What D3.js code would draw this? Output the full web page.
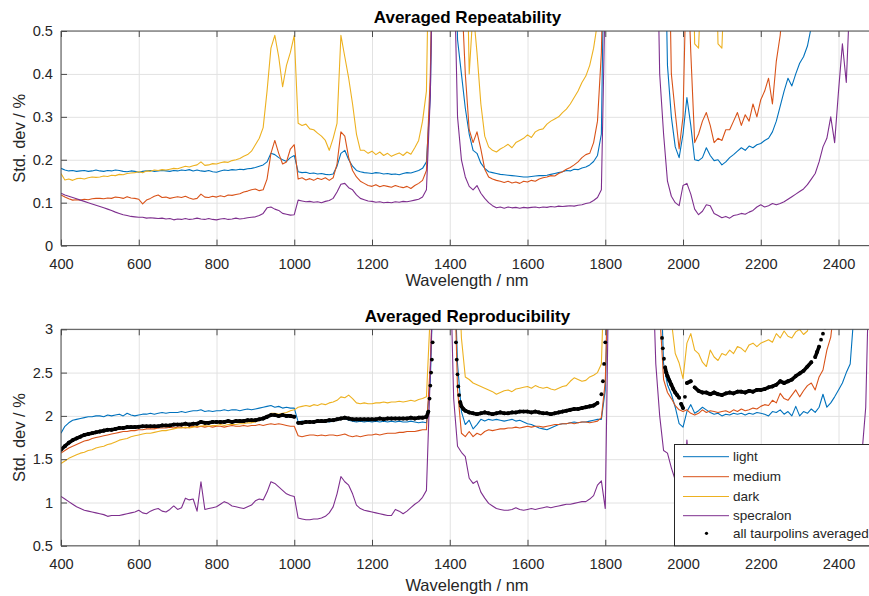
<!DOCTYPE html>
<html><head><meta charset="utf-8">
<script src="https://cdn.jsdelivr.net/npm/d3@7"></script>
<style>
body{margin:0;background:#fff;}
svg{display:block;font-family:"Liberation Sans",Arial,Helvetica,sans-serif;}
</style>
</head><body>
<svg id="chart" width="869" height="596"></svg>
<script>
// ---------------- DATA ----------------
const wavelengths = [
400,410,420,430,440,450,460,470,480,490,
500,510,520,530,540,550,560,570,580,590,
600,610,620,630,640,650,660,670,680,690,
700,710,720,730,740,750,760,770,780,790,
800,810,820,830,840,850,860,870,880,890,
900,910,920,930,940,950,960,970,980,990,
1000,1010,1020,1030,1040,1050,1060,1070,1080,1090,
1100,1110,1120,1130,1140,1150,1160,1170,1180,1190,
1200,1210,1220,1230,1240,1250,1260,1270,1280,1290,
1300,1310,1320,1330,1340,1350,1360,1370,1380,1390,
1400,1410,1420,1430,1440,1450,1460,1470,1480,1490,
1500,1510,1520,1530,1540,1550,1560,1570,1580,1590,
1600,1610,1620,1630,1640,1650,1660,1670,1680,1690,
1700,1710,1720,1730,1740,1750,1760,1770,1780,1790,
1800,1810,1820,1830,1840,1850,1860,1870,1880,1890,
1900,1910,1920,1930,1940,1950,1960,1970,1980,1990,
2000,2010,2020,2030,2040,2050,2060,2070,2080,2090,
2100,2110,2120,2130,2140,2150,2160,2170,2180,2190,
2200,2210,2220,2230,2240,2250,2260,2270,2280,2290,
2300,2310,2320,2330,2340,2350,2360,2370,2380,2390,
2400,2410,2420,2430,2440,2450,2460,2470,2480,2490,
2500];

const seriesNames = ["light", "medium", "dark", "specralon"];
const averagedName = "all taurpolins averaged";
const titles = ["Averaged Repeatability", "Averaged Reproducibility"];
const xLabel = "Wavelength / nm";
const yLabel = "Std. dev / %";
const xTicks = [400, 600, 800, 1000, 1200, 1400, 1600, 1800, 2000, 2200, 2400];
const xDomain = [400, 2500];
const repYTicks = [0, 0.1, 0.2, 0.3, 0.4, 0.5];
const repYTickLabels = ["0", "0.1", "0.2", "0.3", "0.4", "0.5"];
const reproYTicks = [0.5, 1, 1.5, 2, 2.5, 3];
const reproYTickLabels = ["0.5", "1", "1.5", "2", "2.5", "3"];

// Repeatability (top)
const repLight = [
.180,.176,.174,.175,.173,.174,.175,.173,.174,.176,
.174,.173,.175,.174,.176,.175,.173,.172,.174,.173,
.171,.173,.174,.175,.173,.174,.175,.174,.173,.175,
.174,.176,.175,.177,.174,.176,.174,.173,.175,.172,
.171,.174,.176,.175,.177,.176,.178,.177,.179,.180,
.182,.185,.188,.195,.215,.212,.205,.200,.196,.205,
.210,.172,.170,.171,.168,.169,.167,.168,.166,.165,
.167,.185,.215,.222,.200,.185,.175,.172,.170,.169,
.168,.170,.169,.167,.168,.166,.167,.165,.168,.170,
.169,.172,.175,.180,.195,.350,.9,.9,.9,.9,
.9,.9,.48,.40,.32,.26,.222,.215,.192,.180,
.172,.170,.168,.166,.165,.164,.163,.162,.161,.160,
.160,.161,.162,.163,.163,.164,.166,.168,.170,.172,
.175,.174,.178,.177,.181,.183,.188,.196,.210,.260,
.9,.9,.9,.9,.9,.9,.9,.9,.9,.9,
.9,.9,.9,.9,.9,.9,.42,.30,.23,.205,
.26,.345,.28,.20,.198,.205,.228,.21,.198,.200,
.188,.195,.205,.212,.220,.228,.222,.232,.228,.235,
.238,.245,.250,.265,.290,.325,.360,.390,.372,.400,
.425,.440,.465,.510,.9,.9,.9,.9,.9,.9,
.9,.9,.9,.9,.9,.9,.9,.9,.9,.9,
.9];
const repMedium = [
.118,.113,.109,.106,.107,.106,.108,.107,.109,.110,
.110,.109,.111,.110,.113,.112,.110,.114,.111,.110,
.108,.097,.106,.110,.115,.118,.112,.113,.110,.112,
.114,.112,.115,.111,.108,.110,.120,.113,.112,.115,
.113,.116,.114,.118,.117,.119,.121,.125,.127,.130,
.132,.128,.130,.155,.215,.245,.215,.190,.195,.225,
.235,.155,.158,.153,.156,.152,.157,.154,.158,.152,
.158,.190,.265,.255,.205,.175,.160,.150,.145,.140,
.138,.142,.137,.140,.138,.136,.140,.137,.135,.138,
.133,.140,.145,.152,.175,.400,.9,.9,.9,.9,
.9,.9,.9,.60,.40,.27,.24,.265,.225,.178,
.160,.155,.152,.150,.147,.150,.146,.148,.145,.150,
.148,.152,.150,.155,.158,.160,.163,.162,.168,.172,
.178,.182,.188,.195,.205,.212,.215,.240,.290,.450,
.9,.9,.9,.9,.9,.9,.9,.9,.9,.9,
.9,.9,.9,.9,.9,.9,.9,.40,.31,.225,
.30,.70,.45,.24,.26,.29,.31,.28,.24,.25,
.245,.27,.27,.29,.31,.28,.305,.29,.33,.30,
.34,.36,.39,.33,.43,.49,.60,.52,.51,.9,
.9,.9,.9,.9,.9,.9,.9,.9,.9,.9,
.9,.9,.9,.9,.9,.9,.9,.9,.9,.9,
.9];
const repDark = [
.168,.153,.155,.152,.156,.157,.155,.158,.160,.159,
.160,.162,.161,.164,.163,.166,.165,.168,.169,.170,
.172,.170,.174,.173,.176,.175,.177,.176,.178,.180,
.179,.182,.185,.183,.186,.188,.195,.187,.188,.191,
.190,.193,.195,.194,.198,.200,.203,.208,.212,.220,
.235,.250,.275,.360,.460,.490,.440,.370,.420,.450,
.490,.285,.280,.283,.272,.270,.262,.255,.245,.222,
.250,.285,.490,.440,.390,.330,.260,.222,.222,.215,
.220,.212,.218,.210,.215,.208,.212,.216,.210,.218,
.213,.228,.245,.290,.360,.9,.9,.9,.9,.9,
.9,.9,.9,.9,.9,.40,.55,.45,.33,.255,
.230,.222,.218,.225,.230,.236,.228,.240,.245,.250,
.258,.252,.265,.270,.272,.283,.290,.295,.300,.310,
.318,.330,.345,.360,.380,.395,.420,.460,.520,.9,
.9,.9,.9,.9,.9,.9,.9,.9,.9,.9,
.9,.9,.9,.9,.9,.9,.9,.9,.9,.9,
.9,.9,.9,.47,.46,.7,.9,.9,.9,.47,
.46,.7,.9,.9,.9,.9,.9,.9,.9,.9,
.9,.9,.9,.9,.9,.9,.9,.9,.9,.9,
.9,.9,.9,.9,.9,.9,.9,.9,.9,.9,
.9,.9,.9,.9,.9,.9,.9,.9,.9,.9,
.9];
const repSpecralon = [
.122,.118,.115,.112,.109,.106,.103,.100,.097,.094,
.091,.088,.085,.082,.078,.075,.072,.070,.068,.067,
.066,.066,.064,.065,.064,.063,.064,.062,.063,.060,
.062,.061,.063,.061,.062,.064,.062,.061,.063,.061,
.060,.062,.063,.061,.062,.064,.062,.063,.065,.066,
.067,.070,.075,.088,.090,.085,.082,.075,.073,.071,
.072,.106,.104,.102,.103,.101,.102,.100,.103,.105,
.110,.125,.143,.145,.135,.130,.118,.110,.107,.104,
.103,.101,.102,.100,.101,.100,.102,.101,.103,.102,
.104,.106,.108,.113,.130,.350,.9,.9,.9,.9,
.9,.70,.30,.20,.16,.138,.130,.140,.122,.110,
.100,.093,.088,.090,.087,.090,.088,.089,.087,.089,
.088,.089,.090,.088,.090,.089,.091,.090,.092,.091,
.092,.093,.092,.094,.095,.098,.100,.105,.112,.130,
.60,.9,.9,.9,.9,.9,.9,.9,.9,.9,
.9,.9,.9,.9,.40,.26,.15,.115,.100,.093,
.140,.145,.120,.085,.072,.080,.095,.093,.075,.070,
.065,.068,.064,.070,.072,.075,.073,.078,.082,.090,
.095,.090,.093,.098,.095,.098,.102,.108,.114,.120,
.126,.132,.142,.155,.168,.195,.230,.250,.300,.240,
.360,.470,.380,.600,.9,.9,.9,.9,.9,.9,
.9];

// Reproducibility (bottom)
const reproLight = [
1.80,1.88,1.92,1.95,1.96,1.97,1.98,1.99,1.99,2.00,
2.00,1.99,2.01,2.00,2.01,2.02,2.00,2.03,2.01,2.00,
2.01,2.02,2.02,2.03,2.02,2.03,2.04,2.03,2.04,2.04,
2.04,2.05,2.04,2.05,2.06,2.06,2.07,2.05,2.06,2.05,
2.06,2.06,2.07,2.06,2.07,2.07,2.06,2.07,2.08,2.07,
2.08,2.09,2.10,2.11,2.12,2.10,2.11,2.09,2.10,2.09,
2.09,1.93,1.94,1.93,1.93,1.92,1.93,1.93,1.94,1.93,
1.94,1.95,1.96,1.97,1.95,1.94,1.93,1.94,1.93,1.94,
1.93,1.94,1.93,1.94,1.93,1.94,1.93,1.94,1.93,1.93,
1.94,1.93,1.92,1.93,1.92,2.40,4,4,4,4,
4,4,2.60,2.05,1.90,1.95,1.85,1.90,1.96,1.94,
1.96,1.95,1.96,1.95,1.94,1.95,1.96,1.94,1.95,1.93,
1.91,1.90,1.88,1.86,1.85,1.84,1.86,1.88,1.90,1.91,
1.91,1.92,1.93,1.92,1.93,1.93,1.94,1.95,1.96,1.96,
2.30,4,4,4,4,4,4,4,4,4,
4,4,4,4,4,2.60,2.36,2.25,2.10,1.91,
1.87,2.05,2.13,2.03,2.06,2.10,2.07,2.04,2.02,2.03,
2.00,2.02,2.01,2.03,2.02,2.03,2.01,2.03,2.02,2.04,
2.03,2.02,2.00,2.05,2.04,2.07,2.02,2.05,2.00,2.11,
2.00,2.05,2.03,2.08,2.04,2.10,2.25,2.10,2.15,2.22,
2.30,2.38,2.50,2.60,3.20,4,4,4,4,4,
4];
const reproMedium = [
1.57,1.60,1.63,1.65,1.67,1.69,1.71,1.72,1.74,1.75,
1.76,1.77,1.78,1.79,1.80,1.81,1.82,1.82,1.83,1.83,
1.84,1.84,1.85,1.85,1.85,1.86,1.86,1.86,1.87,1.86,
1.87,1.87,1.86,1.87,1.88,1.87,1.88,1.87,1.88,1.87,
1.88,1.88,1.87,1.88,1.89,1.88,1.88,1.89,1.88,1.89,
1.89,1.90,1.89,1.90,1.91,1.90,1.91,1.90,1.89,1.88,
1.88,1.77,1.76,1.77,1.78,1.78,1.77,1.78,1.77,1.78,
1.78,1.77,1.78,1.79,1.77,1.76,1.77,1.76,1.77,1.78,
1.78,1.79,1.78,1.79,1.80,1.80,1.80,1.81,1.81,1.82,
1.82,1.82,1.83,1.84,1.84,2.60,4,4,4,4,
4,4,2.30,1.80,1.76,1.82,1.76,1.80,1.78,1.82,
1.84,1.83,1.84,1.85,1.85,1.86,1.86,1.87,1.86,1.87,
1.88,1.87,1.88,1.88,1.87,1.88,1.89,1.90,1.90,1.91,
1.91,1.92,1.91,1.92,1.93,1.93,1.92,1.93,1.94,1.98,
2.40,4,4,4,4,4,4,4,4,4,
4,4,4,4,3.20,2.42,2.27,2.20,2.12,2.07,
2.05,2.07,2.03,2.01,2.03,2.07,2.04,2.06,2.05,2.04,
2.05,2.06,2.04,2.07,2.05,2.08,2.06,2.07,2.09,2.08,
2.11,2.13,2.12,2.18,2.15,2.26,2.20,2.18,2.24,2.30,
2.22,2.29,2.35,2.38,2.30,2.45,2.53,2.76,2.91,3.30,
4,4,4,4,4,4,4,4,4,4,
4];
const reproDark = [
1.45,1.48,1.51,1.53,1.55,1.57,1.58,1.60,1.61,1.63,
1.64,1.65,1.67,1.68,1.70,1.72,1.73,1.74,1.76,1.77,
1.78,1.79,1.80,1.80,1.81,1.82,1.83,1.83,1.84,1.85,
1.86,1.86,1.87,1.86,1.87,1.88,1.88,1.89,1.88,1.89,
1.89,1.90,1.89,1.90,1.90,1.90,1.91,1.91,1.92,1.92,
1.93,1.95,1.97,1.99,2.03,2.03,2.02,2.03,2.04,2.06,
2.07,2.10,2.11,2.12,2.11,2.13,2.12,2.14,2.13,2.15,
2.16,2.18,2.22,2.21,2.24,2.20,2.15,2.14,2.15,2.14,
2.14,2.15,2.15,2.16,2.15,2.16,2.16,2.17,2.16,2.17,
2.18,2.17,2.19,2.20,2.22,3.20,4,4,4,4,
4,4,4,2.90,2.45,2.42,2.38,2.36,2.34,2.32,
2.30,2.28,2.25,2.27,2.29,2.30,2.28,2.31,2.32,2.33,
2.34,2.32,2.35,2.33,2.32,2.33,2.31,2.30,2.32,2.34,
2.35,2.40,2.44,2.42,2.40,2.41,2.45,2.47,2.50,2.60,
4,4,4,4,4,4,4,4,4,4,
4,4,4,4,4,4,4,3.10,2.72,2.61,
2.43,2.84,2.95,2.76,2.72,2.62,2.57,2.76,2.68,2.64,
2.72,2.70,2.76,2.72,2.80,2.78,2.74,2.82,2.84,2.80,
2.84,2.86,2.88,2.85,2.95,2.90,2.98,2.92,2.90,2.97,
3.00,2.94,2.98,3.20,4,4,4,4,4,4,
4,4,4,4,4,4,4,4,4,4,
4];
const reproSpecralon = [
1.07,1.04,1.01,0.98,0.95,0.93,0.91,0.90,0.89,0.88,
0.87,0.86,0.84,0.85,0.85,0.85,0.86,0.87,0.88,0.89,
0.91,0.88,0.87,0.90,0.92,0.93,0.90,0.89,0.92,0.96,
0.92,0.94,1.05,1.03,1.04,0.90,1.24,0.92,0.93,0.94,
0.95,0.98,1.01,0.99,0.96,0.95,0.94,0.93,0.95,0.97,
1.02,1.04,1.03,1.12,1.24,1.22,1.18,1.14,1.10,1.08,
1.07,0.82,0.81,0.80,0.80,0.81,0.81,0.82,0.84,0.88,
0.95,1.10,1.30,1.24,1.20,1.10,0.97,0.93,0.91,0.90,
0.89,0.88,0.87,0.86,0.85,0.85,0.92,0.90,0.87,0.90,
0.94,0.98,1.01,1.06,1.14,2.50,4,4,4,4,
4,2.20,1.65,1.58,1.53,1.28,1.22,1.25,1.12,1.05,
0.99,0.96,0.93,0.92,0.91,0.91,0.92,0.94,0.92,0.91,
0.92,0.93,0.92,0.93,0.94,0.95,0.94,0.95,0.96,0.97,
0.98,0.98,0.99,1.00,1.01,1.01,1.04,1.08,1.20,1.25,
0.93,4,4,4,4,4,4,4,4,4,
4,4,4,2.60,2.00,1.60,1.57,1.40,1.26,1.14,
1.05,1.72,1.20,1.00,0.90,0.85,0.84,0.82,0.81,0.80,
0.80,0.79,0.80,0.81,0.81,0.82,0.82,0.83,0.84,0.85,
0.85,0.86,0.87,0.88,0.88,0.90,0.91,0.92,0.93,0.95,
0.96,0.98,1.00,1.02,1.05,1.08,1.12,1.16,1.20,1.25,
1.30,1.34,1.38,1.42,1.46,1.50,1.55,2.10,4,4,
4];

// "all taurpolins averaged" as [wavelength, value] points
const allAveraged = [
[400,1.61],[410,1.65],[420,1.69],[430,1.72],[440,1.74],[450,1.76],[460,1.78],[470,1.79],[480,1.80],[490,1.81],
[500,1.82],[510,1.83],[520,1.84],[530,1.84],[540,1.85],[550,1.86],[560,1.86],[570,1.87],[580,1.87],[590,1.87],
[600,1.875],[610,1.88],[620,1.88],[630,1.88],[640,1.88],[650,1.88],[660,1.89],[670,1.89],[680,1.89],[690,1.90],
[700,1.90],[710,1.90],[720,1.91],[730,1.90],[740,1.91],[750,1.91],[760,1.93],[770,1.92],[780,1.92],[790,1.93],
[800,1.93],[810,1.93],[820,1.93],[830,1.94],[840,1.93],[850,1.94],[860,1.94],[870,1.94],[880,1.95],[890,1.95],
[900,1.95],[910,1.96],[920,1.97],[930,1.99],[940,2.01],[950,2.01],[960,2.00],[970,2.01],[980,2.00],[990,2.00],
[1000,1.99],[1010,1.92],[1020,1.92],[1030,1.93],[1040,1.93],[1050,1.93],[1060,1.94],[1070,1.94],[1080,1.94],[1090,1.95],
[1100,1.95],[1110,1.96],[1120,1.97],[1130,1.98],[1140,1.97],[1150,1.96],[1160,1.96],[1170,1.96],[1180,1.96],[1190,1.96],
[1200,1.96],[1210,1.96],[1220,1.97],[1230,1.96],[1240,1.97],[1250,1.97],[1260,1.97],[1270,1.97],[1280,1.97],[1290,1.97],
[1300,1.98],[1310,1.97],[1320,1.98],[1330,1.98],[1340,1.99],[1345,2.05],[1348,2.2],[1350,2.35],[1352,2.5],[1354,2.65],[1356,2.85],[1358,3.05],
[1414,3.05],[1416,2.85],[1418,2.65],[1420,2.48],[1422,2.34],[1424,2.24],[1427,2.16],[1430,2.11],[1435,2.08],
[1440,2.06],[1450,2.04],[1460,2.03],[1470,2.02],[1480,2.03],[1490,2.04],
[1500,2.03],[1510,2.02],[1520,2.03],[1530,2.04],[1540,2.03],[1550,2.03],[1560,2.04],[1570,2.04],[1580,2.05],[1590,2.05],
[1600,2.05],[1610,2.04],[1620,2.05],[1630,2.04],[1640,2.03],[1650,2.03],[1660,2.02],[1670,2.03],[1680,2.04],[1690,2.05],
[1700,2.06],[1710,2.07],[1720,2.08],[1730,2.08],[1740,2.09],[1750,2.10],[1760,2.11],[1770,2.12],[1780,2.15],[1790,2.25],
[1794,2.4],[1797,2.6],[1800,2.85],[1802,3.05],
[1944,3.05],[1946,2.9],[1948,2.78],[1951,2.66],[1954,2.56],[1957,2.5],[1960,2.46],[1965,2.41],[1970,2.36],[1975,2.31],
[1980,2.27],[1985,2.24],[1990,2.21],[1995,2.14],[2000,2.09],[2005,2.22],[2010,2.38],
[2020,2.40],[2030,2.33],[2040,2.29],[2050,2.27],[2060,2.27],[2070,2.25],[2080,2.27],[2090,2.25],
[2100,2.24],[2110,2.26],[2120,2.27],[2130,2.26],[2140,2.28],[2150,2.28],[2160,2.27],[2170,2.29],[2180,2.28],[2190,2.30],
[2200,2.30],[2210,2.31],[2220,2.33],[2230,2.34],[2240,2.36],[2250,2.40],[2260,2.38],[2270,2.40],[2280,2.42],[2290,2.46],
[2300,2.49],[2310,2.52],[2320,2.57],[2330,2.62],[2340,2.68],[2345,2.74],[2350,2.80],[2355,2.88],[2360,2.95],[2365,3.02]
];

// ---------------- STYLE / LAYOUT ----------------
const colors = ["#0072BD", "#D95319", "#EDB120", "#7E2F8E"];
const textColor = "#262626";
const axisColor = "#4a4a4a";
const gridColor = "#e2e2e2";
const plotLeft = 61, plotRight = 877.4;

const panels = [
  { top: 31, bottom: 245.6, domain: [0, 0.5], ticks: repYTicks, tickLabels: repYTickLabels,
    series: [repLight, repMedium, repDark, repSpecralon], title: titles[0],
    titleY: 22.7, xLabelY: 285.8, averaged: null },
  { top: 329.3, bottom: 545.8, domain: [0.5, 3], ticks: reproYTicks, tickLabels: reproYTickLabels,
    series: [reproLight, reproMedium, reproDark, reproSpecralon], title: titles[1],
    titleY: 321.8, xLabelY: 590.5, averaged: allAveraged }
];

const svg = d3.select("#chart");
svg.append("rect").attr("width", 869).attr("height", 596).attr("fill", "#fff");

const x = d3.scaleLinear().domain(xDomain).range([plotLeft, plotRight]);

panels.forEach((p, pi) => {
  const y = d3.scaleLinear().domain(p.domain).range([p.bottom, p.top]);
  const g = svg.append("g");
  const clipId = "clip" + pi;
  svg.append("clipPath").attr("id", clipId).append("rect")
    .attr("x", plotLeft).attr("y", p.top)
    .attr("width", plotRight - plotLeft).attr("height", p.bottom - p.top);

  // grid
  const gx = g.append("g").attr("transform", `translate(0,${p.bottom})`)
    .call(d3.axisBottom(x).tickValues(xTicks).tickSize(-(p.bottom - p.top)).tickFormat(""));
  gx.select(".domain").remove();
  gx.selectAll("line").attr("stroke", gridColor).attr("stroke-width", 1);
  const gy = g.append("g").attr("transform", `translate(${plotLeft},0)`)
    .call(d3.axisLeft(y).tickValues(p.ticks).tickSize(-(plotRight - plotLeft)).tickFormat(""));
  gy.select(".domain").remove();
  gy.selectAll("line").attr("stroke", gridColor).attr("stroke-width", 1);

  // lines
  const lineGen = d3.line().x((d, i) => x(wavelengths[i])).y(d => y(d));
  const lg = g.append("g").attr("clip-path", `url(#${clipId})`);
  p.series.forEach((vals, si) => {
    lg.append("path").datum(vals)
      .attr("d", lineGen)
      .attr("fill", "none")
      .attr("stroke", colors[si])
      .attr("stroke-width", 1.1)
      .attr("stroke-linejoin", "round");
  });
  if (p.averaged) {
    // dense markers: where neighbouring markers overlap they merge into a solid band
    const pts = p.averaged.map(d => [x(d[0]), y(d[1])]);
    const pairs = d3.pairs(pts).filter(([a, b]) => Math.hypot(b[0] - a[0], b[1] - a[1]) < 6);
    lg.append("g").selectAll("line").data(pairs).join("line")
      .attr("x1", d => d[0][0]).attr("y1", d => d[0][1])
      .attr("x2", d => d[1][0]).attr("y2", d => d[1][1])
      .attr("stroke", "#000").attr("stroke-width", 3.6).attr("stroke-linecap", "round");
    lg.append("g").selectAll("circle").data(pts).join("circle")
      .attr("cx", d => d[0]).attr("cy", d => d[1])
      .attr("r", 1.9).attr("fill", "#000");
  }

  // box
  g.append("path")
    .attr("d", `M${plotLeft},${p.top}H${plotRight}V${p.bottom}H${plotLeft}Z`)
    .attr("fill", "none").attr("stroke", axisColor).attr("stroke-width", 1);

  // ticks and labels
  const ax = g.append("g").attr("transform", `translate(0,${p.bottom})`)
    .call(d3.axisBottom(x).tickValues(xTicks).tickSize(-6).tickPadding(13).tickFormat(d3.format("d")));
  ax.select(".domain").remove();
  ax.selectAll("line").attr("stroke", axisColor);
  ax.selectAll("text").attr("fill", textColor).style("font-size", "14.6px")
    .style("font-family", '"Liberation Sans", Arial, sans-serif');
  const axTop = g.append("g").attr("transform", `translate(0,${p.top})`)
    .call(d3.axisTop(x).tickValues(xTicks).tickSize(-6).tickFormat(""));
  axTop.select(".domain").remove();
  axTop.selectAll("line").attr("stroke", axisColor);
  const ay = g.append("g").attr("transform", `translate(${plotLeft},0)`)
    .call(d3.axisLeft(y).tickValues(p.ticks).tickSize(-6).tickPadding(8)
      .tickFormat((d, i) => p.tickLabels[i]));
  ay.select(".domain").remove();
  ay.selectAll("line").attr("stroke", axisColor);
  ay.selectAll("text").attr("fill", textColor).style("font-size", "14.6px")
    .style("font-family", '"Liberation Sans", Arial, sans-serif');

  // title & labels
  g.append("text").attr("x", 467.5).attr("y", p.titleY).attr("text-anchor", "middle")
    .attr("fill", "#000").style("font-size", "17px").style("font-weight", "bold").text(p.title);
  g.append("text").attr("x", 467).attr("y", p.xLabelY).attr("text-anchor", "middle")
    .attr("fill", textColor).style("font-size", "16.5px").text(xLabel);
  g.append("text").attr("transform", `translate(25,${(p.top + p.bottom) / 2}) rotate(-90)`)
    .attr("text-anchor", "middle").attr("fill", textColor).style("font-size", "16.5px").text(yLabel);

  // legend (bottom panel)
  if (pi === 1) {
    const lgX = 674.5, lgY = 444.5;
    const leg = svg.append("g");
    leg.append("rect").attr("x", lgX).attr("y", lgY).attr("width", 210).attr("height", p.bottom - lgY)
      .attr("fill", "#fff").attr("stroke", textColor).attr("stroke-width", 1);
    const rows = [456.7, 476.7, 496.5, 515.7, 533.3];
    seriesNames.forEach((name, i) => {
      leg.append("line").attr("x1", 683).attr("x2", 729).attr("y1", rows[i]).attr("y2", rows[i])
        .attr("stroke", colors[i]).attr("stroke-width", 1);
      leg.append("text").attr("x", 733).attr("y", rows[i] + 4.7).attr("fill", textColor)
        .style("font-size", "13.5px").text(name);
    });
    leg.append("circle").attr("cx", 706.5).attr("cy", rows[4]).attr("r", 1.6).attr("fill", "#000");
    leg.append("text").attr("x", 733).attr("y", rows[4] + 4.7).attr("fill", textColor)
      .style("font-size", "13.5px").text(averagedName);
  }
});
</script>
</body></html>
